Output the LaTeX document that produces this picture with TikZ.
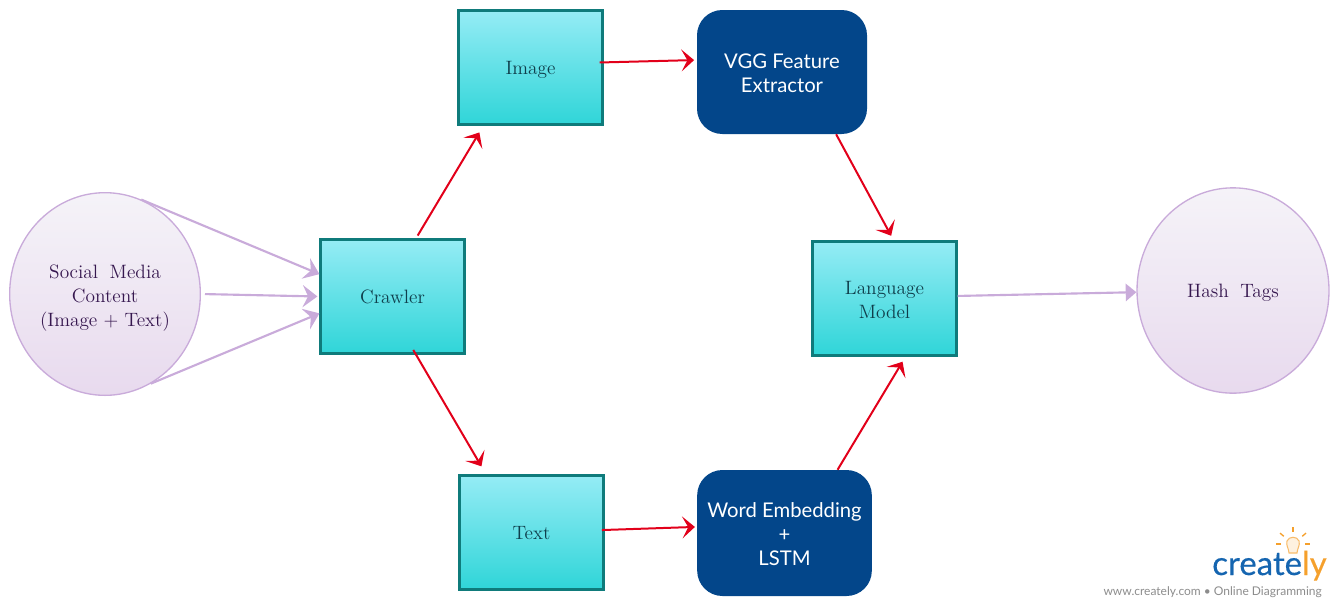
\documentclass[tikz,border=0pt]{standalone}
\usepackage{fontspec}
\newfontfamily\latofont{Lato}
\newfontfamily\logofont[FakeBold=0.4]{Lato}
\usetikzlibrary{arrows.meta,shapes.geometric}
\definecolor{boxedge}{HTML}{0F7B7B}
\definecolor{boxtop}{HTML}{95ECF5}
\definecolor{boxbot}{HTML}{2FD5D8}
\definecolor{boxtext}{HTML}{0F3F4C}
\definecolor{netblue}{HTML}{03468A}
\definecolor{circedge}{HTML}{C9ABDA}
\definecolor{circtop}{HTML}{F5F3F8}
\definecolor{circbot}{HTML}{E8DAEE}
\definecolor{circtext}{HTML}{36174F}
\definecolor{arrowred}{HTML}{E2001A}
\definecolor{logoblue}{HTML}{1565B0}
\definecolor{logoorange}{HTML}{F5A02C}
\tikzset{
  procbox/.style={draw=boxedge,line width=1.6pt,top color=boxtop,bottom color=boxbot,text=boxtext,
    minimum width=108pt,minimum height=85.5pt,inner sep=0pt,align=center,font=\fontsize{14.5}{18}\selectfont},
  netbox/.style={fill=netblue,text=white,rounded corners=19pt,inner sep=0pt,align=center,
    font=\latofont\fontsize{15.2}{18}\selectfont},
  datacirc/.style={ellipse,draw=circedge,line width=1pt,top color=circtop,bottom color=circbot,text=circtext,
    inner sep=0pt,align=center,font=\fontsize{14.5}{18}\selectfont},
  oneline/.style={text height=13.5pt,text depth=3.5pt},
  twolines/.style={text height=30pt,text depth=0pt},
  threelines/.style={text height=48pt,text depth=0pt},
  redarrow/.style={draw=arrowred,line width=1.5pt,-{Stealth[length=9.5pt,width=16.5pt,inset=4.5pt]}},
  purparrow/.style={draw=circedge,line width=1.6pt,-{Stealth[length=11pt,width=16.5pt,inset=4pt]}},
}
\begin{document}
\begin{tikzpicture}[x=0.75pt,y=-0.75pt]
\useasboundingbox (0,0) rectangle (1337,604);
\node [datacirc,threelines,minimum width=143pt,minimum height=152pt] (social) at (105,294) {Social\hspace{.6em}Media\\Content\\(Image\ + Text)};
\node [procbox,oneline] (crawler) at (392.5,296.5) {Crawler};
\node [procbox,oneline] (image) at (530.5,67.5) {Image};
\node [procbox,oneline] (text) at (531.5,532.5) {Text};
\node [netbox,twolines,minimum width=127.5pt,minimum height=93pt] (vgg) at (782,72) {VGG Feature\\Extractor};
\node [netbox,threelines,minimum width=131pt,minimum height=94.5pt] (word) at (784.5,533) {Word Embedding\\+\\LSTM};
\node [procbox,twolines] (language) at (884.5,298.5) {Language\\Model};
\node [datacirc,oneline,minimum width=144pt,minimum height=154pt] (hash) at (1233,290.5) {Hash\hspace{.6em}Tags};
% inputs to the crawler
\draw [purparrow] (social.69.6) -- (crawler.163.5);
\draw [purparrow,shorten <=3pt,shorten >=1.5pt] (social.east) -- (crawler.west);
\draw [purparrow] (social.-63.7) -- (crawler.193.6);
% two branches
\draw [redarrow,shorten <=2.5pt,shorten >=6pt] (crawler.68.6) -- (image.231.6);
\draw [redarrow,shorten <=-4pt,shorten >=7pt] (crawler.-68.6) -- (text.128.2);
\draw [redarrow,shorten <=-3pt,shorten >=2pt] (image.4.3) -- (vgg.172.6);
\draw [redarrow,shorten <=-2pt,shorten >=1.5pt] (text.2.4) -- (word.176.7);
\draw [redarrow,shorten >=4pt] (vgg.-49) -- (language.81.6);
\draw [redarrow,shorten >=4.5pt] (word.50.7) -- (language.-70.4);
\draw [purparrow,-{Stealth[length=8pt,width=13pt,inset=0pt]}] (language.2.8) -- (hash.181.5);
% logo
\node [anchor=base west,inner sep=0pt,font=\logofont\fontsize{24.7}{26}\selectfont,text=logoblue] (logo) at (1212,575) {create\textcolor{logoorange}{ly}};
\node [anchor=base east,inner sep=0pt,font=\latofont\fontsize{9}{9}\selectfont,text=black!45] (slogan) at (1322,595) {www.creately.com \textbullet\ Online Diagramming};
\draw [logoorange!70,line width=.8pt,fill=logoorange!15] (1289,553) .. controls (1288,546) and (1286,546) .. (1287,541) .. controls (1289,536) and (1297,536) .. (1299,541) .. controls (1300,546) and (1298,546) .. (1297,553) -- cycle;
\foreach \a in {0,40,90,140,180}
  \draw [logoorange,line width=1pt] (1293,544) ++(-\a:12) -- ++(-\a:5);
\end{tikzpicture}
\end{document}
